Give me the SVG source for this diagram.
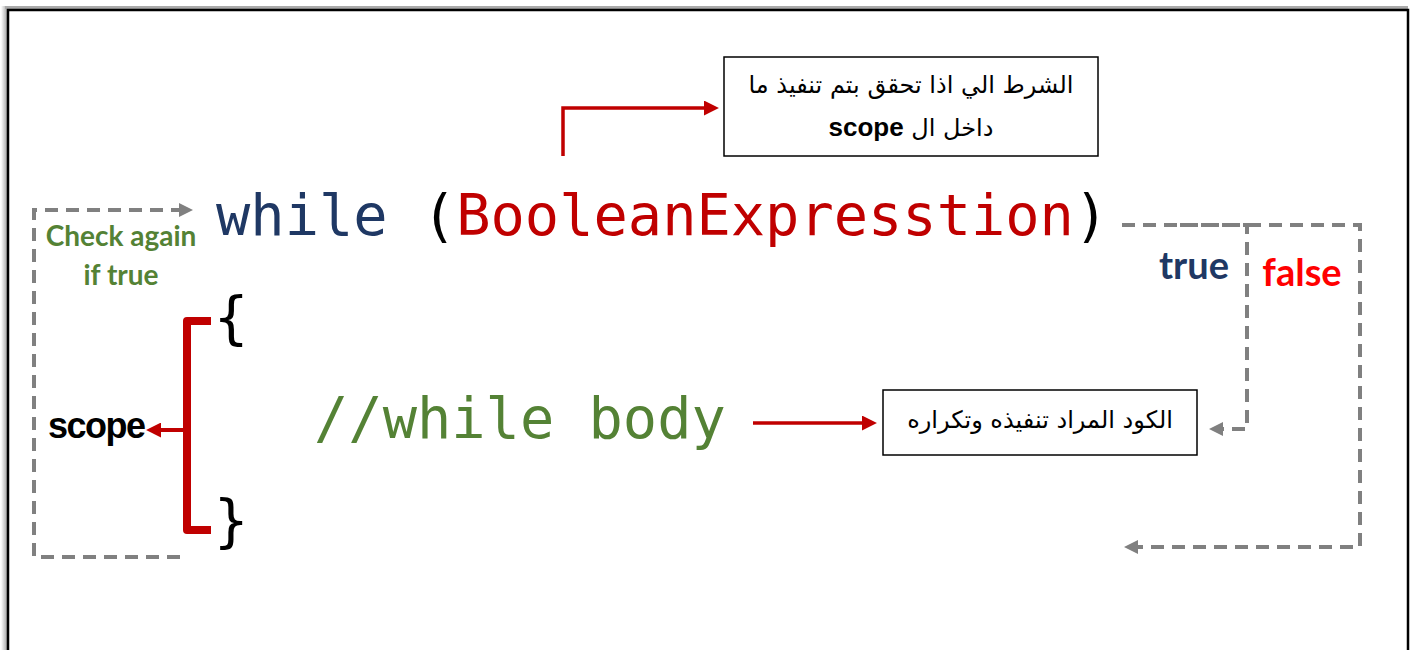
<svg xmlns="http://www.w3.org/2000/svg" width="1417" height="650" viewBox="0 0 1417 650">
<defs>
<style>
.code{font-family:"DejaVu Sans Mono","Liberation Mono",monospace;font-size:57px}
.ar{font-family:"DejaVu Sans","Liberation Sans",sans-serif;font-size:24px;fill:#000}
.lbl{font-family:Lato,"Open Sans",sans-serif;font-weight:bold}
.gray{fill:none;stroke:#808080;stroke-width:4;stroke-dasharray:13 8}
.red{fill:none;stroke:#C00000}
.box{fill:#fff;stroke:#000;stroke-width:1.5}
</style>
<marker id="ag" viewBox="0 0 14 14" markerWidth="14" markerHeight="14" refX="1" refY="7" orient="auto" markerUnits="userSpaceOnUse">
<path d="M0,0 L14,7 L0,14 z" fill="#808080"/>
</marker>
<marker id="ar" viewBox="0 0 14 14" markerWidth="15" markerHeight="15" refX="1" refY="7" orient="auto" markerUnits="userSpaceOnUse">
<path d="M0,0 L14,7 L0,14 z" fill="#C00000"/>
</marker>
<linearGradient id="sh" x1="0" x2="1" y1="0" y2="0">
<stop offset="0" stop-color="#fff"/>
<stop offset="1" stop-color="#999"/>
</linearGradient>
</defs>
<rect width="1417" height="650" fill="#fff"/>
<g id="frame">
<rect x="1" y="6" width="7" height="650" fill="url(#sh)"/>
<rect x="5" y="6" width="1403" height="3" fill="#aaa"/>
<rect x="8" y="10" width="1400" height="700" fill="none" stroke="#000" stroke-width="2.5"/>
</g>
<g id="connectors">
<path class="red" stroke-width="3.5" d="M563,156 V108 H705" marker-end="url(#ar)"/>
<path class="red" stroke-width="3.5" d="M753,423 H863" marker-end="url(#ar)"/>
<path class="red" stroke-width="8" stroke-linejoin="round" d="M211,321 H187 V530 H211"/>
<path class="red" stroke-width="4" d="M187,430 H160" marker-end="url(#ar)"/>
<path class="gray" d="M180,557 H34 V210 H180" marker-end="url(#ag)"/>
<path class="gray" d="M1122,225 H1360 V547 H1137" marker-end="url(#ag)"/>
<path class="gray" d="M1180,225 H1247 V429 H1222" marker-end="url(#ag)"/>
</g>
<g id="condition-box">
<rect class="box" x="724" y="57" width="374" height="99"/>
<text class="ar" x="911" y="93" text-anchor="middle" direction="rtl">الشرط الي اذا تحقق بتم تنفيذ ما</text>
<text class="ar" x="911" y="136" text-anchor="middle" direction="rtl">داخل ال <tspan font-family="Liberation Sans, sans-serif" font-weight="bold" font-size="26">scope</tspan></text>
</g>
<g id="while-line">
<text class="code" x="216" y="235"><tspan fill="#1F3864">while</tspan><tspan fill="#000"> (</tspan><tspan fill="#C00000">BooleanExpresstion</tspan><tspan fill="#000">)</tspan></text>
</g>
<g id="braces">
<text class="code" x="214" y="337" fill="#000">{</text>
<text class="code" x="214" y="540" fill="#000">}</text>
</g>
<g id="body">
<text class="code" x="314" y="438" fill="#548235">//while body</text>
</g>
<g id="body-box">
<rect class="box" x="883" y="390" width="314" height="65"/>
<text class="ar" x="1040" y="428" text-anchor="middle" direction="rtl">الكود المراد تنفيذه وتكراره</text>
</g>
<g id="scope-label">
<text x="48" y="438" font-family="Liberation Sans, Arial, sans-serif" font-weight="bold" font-size="36" letter-spacing="-1.5" fill="#000">scope</text>
</g>
<g id="check-label">
<text class="lbl" x="121" y="246" text-anchor="middle" font-size="28" fill="#548235">Check again</text>
<text class="lbl" x="121" y="285" text-anchor="middle" font-size="28" fill="#548235">if true</text>
</g>
<g id="true-label">
<text class="lbl" x="1194" y="279" text-anchor="middle" font-size="38" fill="#1F3864">true</text>
</g>
<g id="false-label">
<text class="lbl" x="1302" y="286" text-anchor="middle" font-size="38" fill="#FF0000">false</text>
</g>
</svg>
